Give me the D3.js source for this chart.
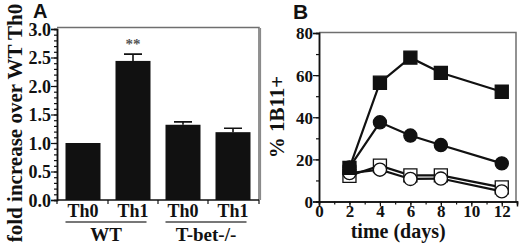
<!DOCTYPE html>
<html>
<head>
<meta charset="utf-8">
<script src="https://cdn.jsdelivr.net/npm/d3@7"></script>
<style>
  body { margin: 0; background: #fff; }
  text { font-family: "Liberation Serif", "Times New Roman", serif; font-weight: bold; fill: #111; }
</style>
</head>
<body>
<script>
// Panel A data
const barLabels = ['Th0', 'Th1', 'Th0', 'Th1']
const barKeys = ['wt0', 'wt1', 'kb0', 'kb1']
const barValues = [1.0, 2.44, 1.32, 1.19]
const barErrors = [0, 0.12, 0.05, 0.07]
const groups = [{ name: 'WT', from: 0, to: 1 }, { name: 'T-bet-/-', from: 2, to: 3 }]
const aTicks = [0, 0.5, 1.0, 1.5, 2.0, 2.5, 3.0]

// Panel B data
const days = [2, 4, 6, 8, 12]
const filledSquare = [16, 56.4, 68.3, 61.1, 52.1]
const filledCircle = [16.2, 37.6, 31.3, 26.8, 18.1]
const openSquare = [12.2, 17, 12.4, 12.4, 6.7]
const openCircle = [13.5, 15.1, 10.7, 10.9, 4.8]
const bTicksX = [0, 2, 4, 6, 8, 10, 12]
const bTicksY = [0, 20, 40, 60, 80]

const svg = d3.select('body').append('svg')
    .attr('width', 520)
    .attr('height', 246)

const frameColor = '#6f6f6f'
const serif = '"Liberation Serif", "Times New Roman", serif'

// ---------- Panel A ----------
const ax = d3.scaleBand().domain(barKeys).range([57, 259]).paddingInner(0.3).paddingOuter(0.17)
const ay = d3.scaleLinear().domain([0, 3]).range([200, 29])

const gA = svg.append('g')

// frame (top + right)
gA.append('path')
    .attr('d', `M57,${ay(3) - 1.5}H259V200`)
    .attr('fill', 'none').attr('stroke', frameColor).attr('stroke-width', 1.5)

gA.selectAll('.bar')
    .data(barValues)
    .enter().append('rect')
    .attr('x', (d, i) => ax(barKeys[i]))
    .attr('width', ax.bandwidth())
    .attr('y', d => ay(d))
    .attr('height', d => ay(0) - ay(d))
    .attr('fill', '#111')

// error bars
barValues.forEach((v, i) => {
    if (!barErrors[i]) return
    const cx = ax(barKeys[i]) + ax.bandwidth() / 2
    gA.append('path')
        .attr('d', `M${cx},${ay(v)}V${ay(v + barErrors[i])}M${cx - 9},${ay(v + barErrors[i])}H${cx + 9}`)
        .attr('stroke', '#111').attr('stroke-width', 1.6).attr('fill', 'none')
})

gA.append('text')
    .attr('x', ax('wt1') + ax.bandwidth() / 2).attr('y', 49)
    .attr('text-anchor', 'middle').style('font-size', '15px').style('fill', '#555')
    .text('**')

// y axis with minor ticks
const yAxisA = gA.append('g').attr('transform', 'translate(57,0)')
yAxisA.call(d3.axisLeft(ay).tickValues(d3.range(0, 3.01, 0.1)).tickSize(3).tickFormat(''))
yAxisA.append('g').call(d3.axisLeft(ay).tickValues(aTicks).tickSize(6).tickFormat(d3.format('.1f')))
yAxisA.selectAll('.domain').attr('stroke', '#111').attr('stroke-width', 1.5)
yAxisA.selectAll('line').attr('stroke', '#111').attr('stroke-width', 1.2)
yAxisA.selectAll('text').style('font-size', '18px').style('font-family', serif).style('font-weight', 'bold').attr('x', -6).attr('dy', '0.35em')

// x axis: ticks at band boundaries
const bounds = [57].concat(barKeys.slice(1).map(k => ax(k) - ax.step() * ax.paddingInner() / 2), [259])
const xAxisA = gA.append('g')
xAxisA.append('line').attr('x1', 57).attr('x2', 259).attr('y1', 200).attr('y2', 200).attr('stroke', '#111').attr('stroke-width', 1.5)
xAxisA.selectAll('.tk').data(bounds).enter().append('line')
    .attr('x1', d => d).attr('x2', d => d).attr('y1', 200).attr('y2', 204)
    .attr('stroke', '#111').attr('stroke-width', 1.2)
xAxisA.selectAll('.lbl').data(barLabels).enter().append('text')
    .attr('x', (d, i) => ax(barKeys[i]) + ax.bandwidth() / 2)
    .attr('y', 217).attr('text-anchor', 'middle').style('font-size', '18px')
    .text(d => d)

groups.forEach(g => {
    const x1 = ax(barKeys[g.from]) - 0
    const x2 = ax(barKeys[g.to]) + ax.bandwidth() - 4
    gA.append('line').attr('x1', x1).attr('x2', x2).attr('y1', 222).attr('y2', 222)
        .attr('stroke', '#777').attr('stroke-width', 2)
    gA.append('text').attr('x', (x1 + x2) / 2).attr('y', 241)
        .attr('text-anchor', 'middle').style('font-size', '19px').text(g.name)
})

gA.append('text')
    .attr('transform', 'translate(22,123) rotate(-90)')
    .attr('text-anchor', 'middle').style('font-size', '21px')
    .text('fold increase over WT Th0')

svg.append('text').attr('x', 33).attr('y', 18)
    .style('font-family', '"Liberation Sans", Arial, sans-serif').style('font-size', '20px')
    .text('A')

// ---------- Panel B ----------
const bx = d3.scaleLinear().domain([0, 13]).range([319, 517])
const by = d3.scaleLinear().domain([0, 80]).range([201.5, 33])

const gB = svg.append('g')

gB.append('path')
    .attr('d', `M319,${by(80) - 0.5}H516V201.5`)
    .attr('fill', 'none').attr('stroke', frameColor).attr('stroke-width', 1.5)
// left border of the B panel region
gB.append('line').attr('x1', 260.5).attr('x2', 260.5).attr('y1', 28).attr('y2', 200)
    .attr('stroke', '#8a8a8a').attr('stroke-width', 1.2)

const yAxisB = gB.append('g').attr('transform', 'translate(319,0)')
yAxisB.call(d3.axisLeft(by).tickValues(d3.range(0, 81, 10)).tickSize(3).tickFormat(''))
yAxisB.append('g').call(d3.axisLeft(by).tickValues(bTicksY).tickSize(6))
yAxisB.selectAll('.domain').attr('stroke', '#111').attr('stroke-width', 1.5)
yAxisB.selectAll('line').attr('stroke', '#111').attr('stroke-width', 1.2)
yAxisB.selectAll('text').style('font-size', '17px').style('font-family', serif).style('font-weight', 'bold').attr('x', -6).attr('dy', '0.35em')

const xAxisB = gB.append('g').attr('transform', 'translate(0,201.5)')
xAxisB.call(d3.axisBottom(bx).tickValues(d3.range(0, 14, 1)).tickSize(3).tickFormat(''))
xAxisB.append('g').call(d3.axisBottom(bx).tickValues(bTicksX).tickSize(5))
xAxisB.selectAll('.domain').attr('stroke', '#111').attr('stroke-width', 1.5)
xAxisB.selectAll('line').attr('stroke', '#111').attr('stroke-width', 1.2)
xAxisB.selectAll('text').style('font-size', '17px').style('font-family', serif).style('font-weight', 'bold').attr('y', 3)

gB.append('text').attr('x', bx(5.2)).attr('y', 238)
    .attr('text-anchor', 'middle').style('font-size', '20px').text('time (days)')

gB.append('text')
    .attr('transform', 'translate(284,117) rotate(-90)')
    .attr('text-anchor', 'middle').style('font-size', '21px')
    .text('% 1B11+')

svg.append('text').attr('x', 293).attr('y', 19)
    .style('font-family', '"Liberation Sans", Arial, sans-serif').style('font-size', '21px')
    .text('B')

const line = d3.line().x((d, i) => bx(days[i])).y(d => by(d))
const series = [
    { v: openSquare, shape: 'square', fill: '#fff' },
    { v: openCircle, shape: 'circle', fill: '#fff' },
    { v: filledSquare, shape: 'square', fill: '#111' },
    { v: filledCircle, shape: 'circle', fill: '#111' }
]
series.forEach(s => {
    gB.append('path').datum(s.v).attr('d', line)
        .attr('fill', 'none').attr('stroke', '#111').attr('stroke-width', 2.2)
})
series.forEach(s => {
    const sym = d3.symbol().type(s.shape === 'square' ? d3.symbolSquare : d3.symbolCircle)
        .size(s.shape === 'square' ? 170 : 135)
    gB.selectAll(null).data(s.v).enter().append('path')
        .attr('d', sym)
        .attr('transform', (d, i) => `translate(${bx(days[i])},${by(d)})`)
        .attr('fill', s.fill).attr('stroke', '#111').attr('stroke-width', 1.3)
})
</script>
</body>
</html>
